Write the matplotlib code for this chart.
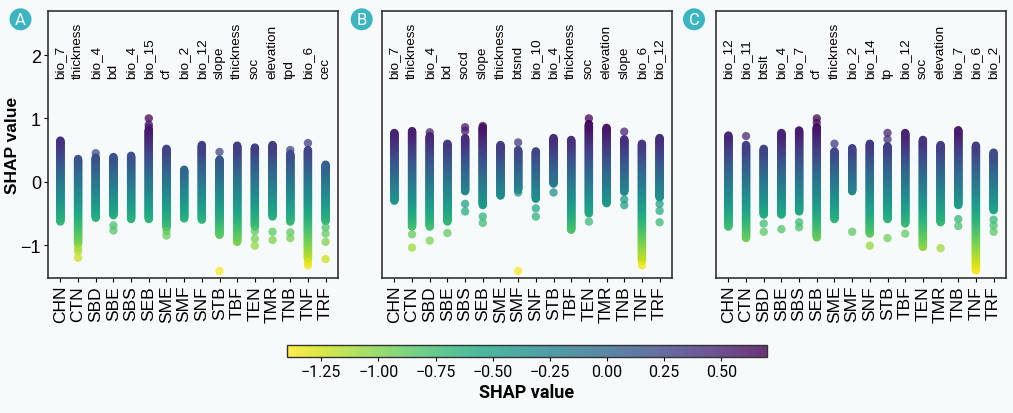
import numpy as np
import matplotlib
matplotlib.use("Agg")
import matplotlib.pyplot as plt
from matplotlib.collections import LineCollection
from matplotlib.colors import Normalize
from matplotlib.cm import ScalarMappable
from matplotlib.patches import Ellipse

plt.rcParams["font.family"] = ["Liberation Sans", "DejaVu Sans"]

# --- data ------------------------------------------------------------------
biomes = ["CHN", "CTN", "SBD", "SBE", "SBS", "SEB", "SME", "SMF",
          "SNF", "STB", "TBF", "TEN", "TMR", "TNB", "TNF", "TRF"]

# panel A
a_features = ["bio_7", "thickness", "bio_4", "bd", "bio_4", "bio_15", "cf", "bio_2",
              "bio_12", "slope", "thickness", "soc", "elevation", "tpd", "bio_6", "cec"]
a_hi = [0.65, 0.36, 0.38, 0.39, 0.41, 0.82, 0.52, 0.19,
        0.58, 0.35, 0.57, 0.54, 0.58, 0.44, 0.50, 0.27]
a_lo = [-0.63, -0.98, -0.57, -0.53, -0.59, -0.59, -0.72, -0.58,
        -0.60, -0.84, -0.95, -0.71, -0.55, -0.63, -1.22, -0.62]
a_pts = [[], [-1.05, -1.10, -1.20], [0.45], [-0.69, -0.77], [], [1.00, 0.90, 0.86],
         [-0.78, -0.85], [], [], [0.47, -1.41], [], [-0.78, -0.90, -1.01],
         [-0.79, -0.92], [0.50, -0.80, -0.89], [0.61, -1.27, -1.32],
         [-0.72, -0.82, -0.95, -1.22]]

# panel B
b_features = ["bio_7", "thickness", "bio_4", "bd", "socd", "slope", "thickness", "btsnd",
              "bio_10", "bio_4", "thickness", "soc", "elevation", "slope", "bio_6", "bio_12"]
b_hi = [0.77, 0.80, 0.72, 0.60, 0.69, 0.86, 0.58, 0.50,
        0.48, 0.69, 0.66, 0.91, 0.85, 0.67, 0.60, 0.69]
b_lo = [-0.30, -0.71, -0.71, -0.63, -0.15, -0.37, -0.22, -0.13,
        -0.27, -0.03, -0.76, -0.50, -0.34, -0.16, -1.25, -0.25]
b_pts = [[], [-0.83, -1.04], [0.78, -0.93], [-0.81], [0.86, 0.80, -0.35, -0.47],
         [0.88, -0.55, -0.65], [], [0.62, -0.17, -1.41], [-0.42, -0.55], [-0.17],
         [], [1.00, -0.63], [], [0.79, -0.28, -0.37], [-1.32],
         [-0.35, -0.46, -0.64]]

# panel C
c_features = ["bio_12", "bio_11", "btslt", "bio_4", "bio_7", "cf", "thickness", "bio_2",
              "bio_14", "tp", "bio_12", "soc", "elevation", "bio_7", "bio_6", "bio_2"]
c_hi = [0.73, 0.58, 0.52, 0.77, 0.81, 0.86, 0.48, 0.53,
        0.60, 0.56, 0.77, 0.66, 0.58, 0.81, 0.57, 0.46]
c_lo = [-0.71, -0.89, -0.52, -0.52, -0.47, -0.88, -0.59, -0.15,
        -0.82, -0.59, -0.66, -1.03, -0.64, -0.37, -1.40, -0.45]
c_pts = [[], [0.72], [-0.66, -0.79], [-0.75], [-0.64, -0.72], [1.00, 0.93],
         [0.60], [-0.79], [-1.01], [0.77, 0.67, -0.89], [-0.82], [],
         [-1.05], [-0.59, -0.70], [], [-0.60, -0.69, -0.79]]

cbar_ticks = [-1.25, -1.00, -0.75, -0.50, -0.25, 0.00, 0.25, 0.50]
yticks = [2, 1, 0, -1]

# --- style ------------------------------------------------------------------
bg = "#f7fafa"
badge = "#3cb5c1"
cmap = plt.cm.viridis_r
dot_norm = Normalize(vmin=-1.40, vmax=1.00)   # colours of the points
bar_norm = Normalize(vmin=-1.40, vmax=0.70)   # range shown on the colour bar
dot_pt = 6.0  # marker diameter in points

fig = plt.figure(figsize=(10.13, 4.14), dpi=100, facecolor=bg)

panels = [
    ("A", a_features, a_hi, a_lo, a_pts),
    ("B", b_features, b_hi, b_lo, b_pts),
    ("C", c_features, c_hi, c_lo, c_pts),
]
lefts = [48, 382, 716]

for k, (letter, feats, his, los, pts) in enumerate(panels):
    ax = fig.add_axes([lefts[k] / 1013, 1 - 279 / 414, 290 / 1013, 266.7 / 414])
    ax.set_facecolor(bg)

    for i in range(len(biomes)):
        # dense (overlapping, so opaque) strip of points between lo and hi
        ys = np.append(np.arange(los[i], his[i], 0.01), his[i])
        segs = [[(i, y0), (i, y1)] for y0, y1 in zip(ys[:-1], ys[1:])]
        cols = cmap(dot_norm((ys[:-1] + ys[1:]) / 2))
        lc = LineCollection(segs, colors=cols, linewidths=dot_pt,
                            capstyle="round", zorder=2)
        lc.set_snap(False)
        ax.add_collection(lc)
        # isolated points
        if pts[i]:
            ax.scatter([i] * len(pts[i]), pts[i], c=pts[i], cmap=cmap, norm=dot_norm,
                       s=dot_pt ** 2, alpha=0.75, edgecolors="none", zorder=3)
        ax.text(i, 1.64, feats[i], rotation=90, ha="center", va="bottom",
                fontsize=9.7, color="black")

    ax.set_xlim(-0.7, 15.7)
    ax.set_ylim(-1.52, 2.69)
    ax.set_xticks(range(len(biomes)))
    ax.set_xticklabels(biomes, rotation=90, fontsize=12.5)
    ax.tick_params(axis="x", length=3, pad=2)
    if k == 0:
        ax.set_yticks(yticks)
        ax.set_yticklabels([str(t).replace("-", "\u2212") for t in yticks], fontsize=13)
        ax.tick_params(axis="y", length=3, pad=2)
        ax.set_ylabel("SHAP value", fontsize=12.5, fontweight="bold")
        ax.yaxis.set_label_coords(-0.097, 0.5)
    else:
        ax.set_yticks([])
    for sp in ax.spines.values():
        sp.set_color("#333333")
        sp.set_linewidth(1.2)

    # panel letter badge
    cx = [20.5, 361.7, 694][k] / 1013
    cy = 1 - 20.3 / 414
    fig.add_artist(Ellipse((cx, cy), 22 / 1013, 22 / 414, transform=fig.transFigure,
                           facecolor=badge, edgecolor="none"))
    fig.text(cx, cy, letter, ha="center", va="center", color="white", fontsize=12,
             family=["Roboto", "DejaVu Sans"])

# colorbar
cax = fig.add_axes([287 / 1013, 1 - 358 / 414, 480 / 1013, 12.5 / 414])
sm = ScalarMappable(norm=bar_norm, cmap=cmap)
cb = fig.colorbar(sm, cax=cax, orientation="horizontal", alpha=0.8)
cb.set_ticks(cbar_ticks)
cb.set_ticklabels([f"{t:.2f}".replace("-", "\u2212") for t in cbar_ticks])
cb.ax.tick_params(labelsize=11.5, length=3, pad=2)
for lab in cb.ax.get_xticklabels():
    lab.set_family(["Roboto", "DejaVu Sans"])
cb.outline.set_edgecolor("#333333")
cb.outline.set_linewidth(1.0)
cb.set_label("SHAP value", fontsize=13, fontweight="bold", labelpad=3,
             family=["Roboto", "DejaVu Sans"])

fig.savefig("out.png", dpi=100, facecolor=bg)
